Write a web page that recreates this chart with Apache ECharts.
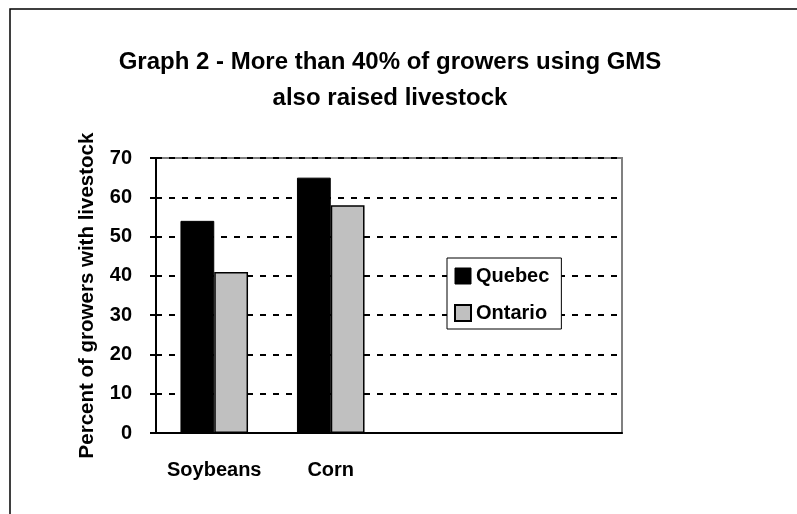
<!DOCTYPE html>
<html>
<head>
<meta charset="utf-8">
<script src="https://cdn.jsdelivr.net/npm/echarts@6/dist/echarts.min.js"></script>
<style>
html,body{margin:0;padding:0;background:#fff;}
#chart{width:797px;height:514px;}
</style>
</head>
<body>
<div id="chart"></div>
<script>
var titleText = 'Graph 2 - More than 40% of growers using GMS\nalso raised livestock';
var categories = ['Soybeans', 'Corn', '', ''];
var quebec = [54, 65, null, null];
var ontario = [41, 58, null, null];
var yMin = 0, yMax = 70, yInterval = 10;
var yAxisName = 'Percent of growers with livestock';

var FONT = '"Liberation Sans", Arial, Helvetica, sans-serif';
var chart = echarts.init(document.getElementById('chart'), null, {renderer: 'canvas'});
chart.setOption({
  backgroundColor: '#fff',
  animation: false,
  graphic: [{
    type: 'rect', left: 7.5, top: 6.5, z: 100, silent: true,
    shape: {width: 788, height: 530},
    style: {fill: 'none', stroke: '#000', lineWidth: 1.5}
  }],
  title: {
    text: titleText,
    left: 385, textAlign: 'center', top: 39,
    textStyle: {fontFamily: FONT, fontWeight: 'bold', fontSize: 24, lineHeight: 36, color: '#000'}
  },
  legend: {
    orient: 'vertical',
    left: 447, top: 258,
    padding: [8, 12, 6, 7],
    itemGap: 17,
    itemWidth: 16, itemHeight: 16,
    borderColor: '#000', borderWidth: 1,
    backgroundColor: '#fff',
    icon: 'rect',
    textStyle: {fontFamily: FONT, fontWeight: 'bold', fontSize: 20, color: '#000'},
    data: [
      {name: 'Quebec', itemStyle: {color: '#000', borderColor: '#000', borderWidth: 1}},
      {name: 'Ontario', itemStyle: {color: '#c0c0c0', borderColor: '#000', borderWidth: 2}}
    ]
  },
  grid: {left: 156, right: 175, top: 158, bottom: 81, show: true, borderColor: '#808080', borderWidth: 2, backgroundColor: 'transparent'},
  xAxis: {
    type: 'category',
    data: categories,
    axisLine: {show: true, lineStyle: {color: '#000', width: 2}},
    axisTick: {show: false},
    axisLabel: {margin: 27, fontFamily: FONT, fontWeight: 'bold', fontSize: 20, color: '#000', interval: 0}
  },
  yAxis: {
    type: 'value',
    min: yMin, max: yMax, interval: yInterval,
    name: yAxisName,
    nameLocation: 'middle',
    nameRotate: 90,
    nameGap: 58,
    nameTextStyle: {fontFamily: FONT, fontWeight: 'bold', fontSize: 20.5, color: '#000'},
    axisLine: {show: true, lineStyle: {color: '#000', width: 2}},
    axisTick: {show: true, inside: false, length: 6, lineStyle: {color: '#000', width: 2}},
    axisLabel: {margin: 24, fontFamily: FONT, fontWeight: 'bold', fontSize: 20, color: '#000'},
    splitLine: {show: true, lineStyle: {color: '#000', width: 2, type: [6, 7]}}
  },
  series: [
    {name: 'Quebec', type: 'bar', data: quebec, barGap: '0%', barCategoryGap: '42%',
     itemStyle: {color: '#000', borderColor: '#000', borderWidth: 1}},
    {name: 'Ontario', type: 'bar', data: ontario,
     itemStyle: {color: '#c0c0c0', borderColor: '#000', borderWidth: 1.5}}
  ]
});
</script>
</body>
</html>
